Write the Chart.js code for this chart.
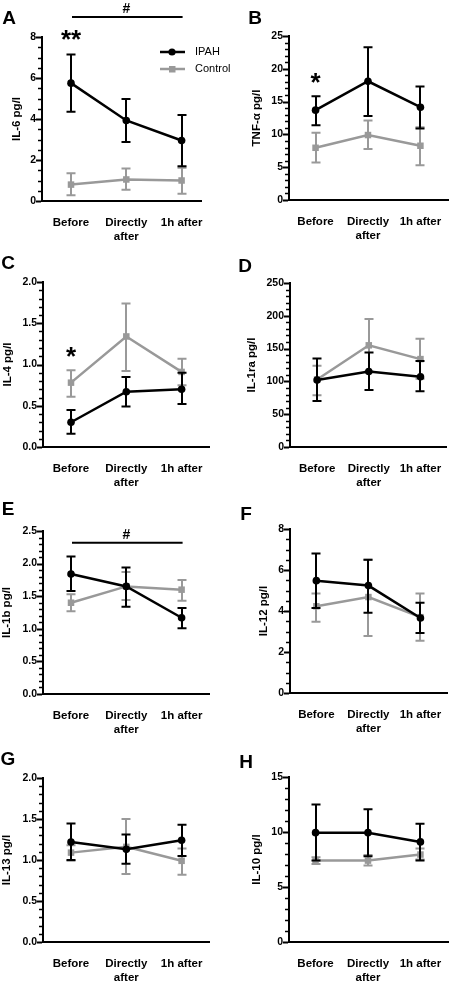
<!DOCTYPE html>
<html>
<head>
<meta charset="utf-8">
<script src="https://cdn.jsdelivr.net/npm/chart.js@4.4.1/dist/chart.umd.min.js"></script>
<style>
  html, body { margin: 0; padding: 0; background: #fff; }
  body { width: 457px; height: 982px; position: relative; overflow: hidden; }
  canvas { position: absolute; }
</style>
</head>
<body>
<canvas id="p0" width="240" height="245" style="left:0;top:0"></canvas>
<canvas id="p1" width="229" height="245" style="left:228px;top:0"></canvas>
<canvas id="p2" width="240" height="245" style="left:0;top:245px"></canvas>
<canvas id="p3" width="229" height="245" style="left:228px;top:245px"></canvas>
<canvas id="p4" width="240" height="245" style="left:0;top:490px"></canvas>
<canvas id="p5" width="229" height="245" style="left:228px;top:490px"></canvas>
<canvas id="p6" width="240" height="247" style="left:0;top:735px"></canvas>
<canvas id="p7" width="229" height="247" style="left:228px;top:735px"></canvas>
<script>
// data
const timepoints = ['Before', ['Directly', 'after'], '1h after'];
const seriesNames = ['IPAH', 'Control'];
const panelLetters = ['A', 'B', 'C', 'D', 'E', 'F', 'G', 'H'];
const yTitles = ['IL-6 pg/l', 'TNF-\u03b1 pg/l', 'IL-4 pg/l', 'IL-1ra pg/l', 'IL-1b pg/l', 'IL-12 pg/l', 'IL-13 pg/l', 'IL-10 pg/l'];
const yMax = [8, 25, 2, 250, 2.5, 8, 2, 15];
const yMajor = [2, 5, 0.5, 50, 0.5, 2, 0.5, 5];
const yMinor = [0.5, 1, 0.1, 10, 0.1, 0.5, 0.1, 1];
const yDecimals = [0, 0, 1, 0, 1, 0, 1, 0];

const ipahMean = [
  [5.75, 3.93, 2.95],
  [13.7, 18.1, 14.15],
  [0.30, 0.67, 0.70],
  [102, 115, 107],
  [1.84, 1.65, 1.17],
  [5.48, 5.24, 3.66],
  [1.22, 1.13, 1.24],
  [9.94, 9.94, 9.1]
];
const ipahLow = [
  [4.35, 2.88, 1.7],
  [11.4, 12.8, 10.9],
  [0.16, 0.49, 0.52],
  [70, 87, 85],
  [1.58, 1.34, 1.01],
  [4.15, 3.92, 2.93],
  [1.0, 0.955, 1.05],
  [7.4, 7.8, 7.4]
];
const ipahHigh = [
  [7.15, 4.98, 4.2],
  [15.8, 23.3, 17.3],
  [0.45, 0.85, 0.9],
  [135, 144, 131],
  [2.11, 1.94, 1.32],
  [6.8, 6.5, 4.4],
  [1.445, 1.31, 1.43],
  [12.5, 12.06, 10.75]
];
const ctrlMean = [
  [0.8, 1.05, 1.0],
  [7.96, 9.9, 8.27],
  [0.78, 1.34, 0.91],
  [103, 155, 134],
  [1.40, 1.65, 1.60],
  [4.23, 4.68, 3.7],
  [1.09, 1.16, 0.99],
  [7.4, 7.4, 7.95]
];
const ctrlLow = [
  [0.28, 0.55, 0.35],
  [5.7, 7.76, 5.3],
  [0.61, 0.92, 0.75],
  [79, 115, 104],
  [1.27, 1.44, 1.43],
  [3.48, 2.78, 2.55],
  [0.99, 0.83, 0.82],
  [7.1, 6.95, 7.5]
];
const ctrlHigh = [
  [1.35, 1.58, 1.62],
  [10.25, 12.1, 11.1],
  [0.93, 1.74, 1.07],
  [124, 195, 165],
  [1.53, 1.87, 1.75],
  [4.85, 6.5, 4.85],
  [1.18, 1.5, 1.14],
  [7.7, 7.9, 8.5]
];

// significance marks
const sigBars = [
  { panel: 0, from: 0, to: 2, y: 8.98, label: '#' },
  { panel: 4, from: 0, to: 2, y: 2.32, label: '#' }
];
const sigStars = [
  { panel: 0, x: 0, y: 8.2, label: '**' },
  { panel: 1, x: 0, y: 18.9, label: '*' },
  { panel: 2, x: 0, y: 1.18, label: '*' }
];

// panel geometry (canvas-local pixels)
const frames = [
  { w: 240, h: 245, axisX: 42, titleX: 17, top: 37, bottom: 201, right: 201, cat0: 71, lx: 9, ly: 18 },
  { w: 229, h: 245, axisX: 61, titleX: 29, top: 36, bottom: 200, right: 229, cat0: 89, lx: 27, ly: 18 },
  { w: 240, h: 245, axisX: 43, titleX: 8, top: 37, bottom: 202, right: 209, cat0: 71, lx: 8, ly: 18 },
  { w: 229, h: 245, axisX: 62, titleX: 24, top: 38, bottom: 202, right: 229, cat0: 91, lx: 17, ly: 21 },
  { w: 240, h: 245, axisX: 43, titleX: 7, top: 41, bottom: 204, right: 209, cat0: 71, lx: 8, ly: 19 },
  { w: 229, h: 245, axisX: 62, titleX: 36, top: 39, bottom: 203, right: 229, cat0: 90, lx: 18, ly: 24 },
  { w: 240, h: 247, axisX: 43, titleX: 7, top: 43, bottom: 207, right: 209, cat0: 71, lx: 8, ly: 24 },
  { w: 229, h: 247, axisX: 61, titleX: 29, top: 42, bottom: 207, right: 229, cat0: 89, lx: 18, ly: 27 }
];
const catGap = 55.3;
const FONT = '"Liberation Sans", Arial, sans-serif';
const BLACK = '#000000';
const GREY = '#999999';
const TITLE_SIZE = 11.5;

function toPoints(arr) {
  return arr.map((v, i) => ({ x: i, y: v }));
}

const decor = {
  id: 'decor',
  beforeDatasetDraw(chart, args) {
    const ds = chart.data.datasets[args.index];
    const x = chart.scales.x, y = chart.scales.y;
    const ctx = chart.ctx;
    ctx.save();
    ctx.strokeStyle = ds.borderColor;
    ctx.lineWidth = 2;
    ds.errLow.forEach((lo, i) => {
      const px = Math.round(x.getPixelForValue(i));
      const y1 = y.getPixelForValue(lo), y2 = y.getPixelForValue(ds.errHigh[i]);
      ctx.beginPath();
      ctx.moveTo(px, y1); ctx.lineTo(px, y2);
      ctx.moveTo(px - 4.5, y1); ctx.lineTo(px + 4.5, y1);
      ctx.moveTo(px - 4.5, y2); ctx.lineTo(px + 4.5, y2);
      ctx.stroke();
    });
    ctx.restore();
  },
  afterDraw(chart) {
    const p = chart.options.plugins.decor;
    const i = p.panel, f = frames[i];
    const ctx = chart.ctx;
    const x = chart.scales.x, y = chart.scales.y;
    const left = chart.chartArea.left;
    ctx.save();
    // y ticks, major and minor
    ctx.strokeStyle = BLACK;
    const n = Math.round(yMax[i] / yMinor[i]);
    for (let k = 0; k <= n; k++) {
      const v = k * yMinor[i];
      const r = v / yMajor[i];
      const major = Math.abs(r - Math.round(r)) < 1e-6;
      const py = Math.round(y.getPixelForValue(v)) + 0.5;
      ctx.lineWidth = major ? 2 : 1.5;
      ctx.beginPath();
      ctx.moveTo(left - 1, py);
      ctx.lineTo(left - (major ? 6 : 4), py);
      ctx.stroke();
    }
    // panel letter
    ctx.fillStyle = BLACK;
    ctx.font = 'bold 19px ' + FONT;
    ctx.textAlign = 'center';
    ctx.textBaseline = 'middle';
    ctx.fillText(panelLetters[i], f.lx, f.ly + 1);
    // significance bars
    sigBars.filter(s => s.panel === i).forEach(s => {
      const py = y.getPixelForValue(s.y);
      const x1 = x.getPixelForValue(s.from), x2 = x.getPixelForValue(s.to);
      ctx.lineWidth = 2;
      ctx.beginPath();
      ctx.moveTo(x1 + 1, py); ctx.lineTo(x2 + 1, py);
      ctx.stroke();
      ctx.font = 'bold 14px ' + FONT;
      ctx.textBaseline = 'alphabetic';
      ctx.fillText(s.label, (x1 + x2) / 2, py - 4);
    });
    sigStars.filter(s => s.panel === i).forEach(s => {
      const px = x.getPixelForValue(s.x), py = y.getPixelForValue(s.y);
      ctx.font = 'bold 26px ' + FONT;
      ctx.textBaseline = 'alphabetic';
      ctx.fillText(s.label, px, py + 15);
    });
    // legend (panel A only)
    if (p.legend) {
      chart.data.datasets.forEach((ds, k) => {
        const ly = 52 + k * 17;
        ctx.strokeStyle = ds.borderColor;
        ctx.fillStyle = ds.borderColor;
        ctx.lineWidth = 2.5;
        ctx.beginPath();
        ctx.moveTo(160, ly); ctx.lineTo(185, ly);
        ctx.stroke();
        if (ds.pointStyle === 'rect') {
          ctx.fillRect(169, ly - 3, 6.5, 6.5);
        } else {
          ctx.beginPath(); ctx.arc(172, ly, 3.6, 0, Math.PI * 2); ctx.fill();
        }
        ctx.fillStyle = BLACK;
        ctx.font = '11px ' + FONT;
        ctx.textAlign = 'left';
        ctx.textBaseline = 'middle';
        ctx.fillText(ds.label, 195, ly);
      });
    }
    ctx.restore();
  }
};

frames.forEach((f, i) => {
  const padLeft = f.titleX - TITLE_SIZE * 0.6;
  const xMin = (f.axisX - f.cat0) / catGap;
  const xMax = xMin + (f.right - f.axisX) / catGap;
  new Chart(document.getElementById('p' + i), {
    type: 'line',
    data: {
      datasets: [
        {
          label: seriesNames[0],
          data: toPoints(ipahMean[i]),
          errLow: ipahLow[i], errHigh: ipahHigh[i],
          borderColor: BLACK, backgroundColor: BLACK,
          borderWidth: 2.5, pointStyle: 'circle', pointRadius: 3.8,
          pointBorderWidth: 0, tension: 0, clip: false
        },
        {
          label: seriesNames[1],
          data: toPoints(ctrlMean[i]),
          errLow: ctrlLow[i], errHigh: ctrlHigh[i],
          borderColor: GREY, backgroundColor: GREY,
          borderWidth: 2.5, pointStyle: 'rect', pointRadius: 4.6,
          pointBorderWidth: 0, tension: 0, clip: false
        }
      ]
    },
    options: {
      responsive: false,
      animation: false,
      layout: { padding: { left: padLeft, top: f.top, right: f.w - f.right, bottom: 0 } },
      scales: {
        x: {
          type: 'linear', min: xMin, max: xMax,
          afterBuildTicks: s => { s.ticks = [0, 1, 2].map(v => ({ value: v })); },
          afterFit: s => { s.height = f.h - f.bottom; },
          grid: { display: false, drawTicks: false },
          border: { display: true, color: BLACK, width: 2 },
          ticks: {
            autoSkip: false, maxRotation: 0, padding: 15, color: BLACK,
            font: { family: FONT, size: 11.5, weight: 'bold', lineHeight: 1.2 },
            callback: v => timepoints[v]
          }
        },
        y: {
          min: 0, max: yMax[i],
          afterFit: s => { s.width = f.axisX - padLeft; },
          grid: { display: false, drawTicks: true, tickLength: 5 },
          border: { display: true, color: BLACK, width: 2 },
          title: {
            display: true, text: yTitles[i], color: BLACK, padding: 0,
            font: { family: FONT, size: TITLE_SIZE, weight: 'bold', lineHeight: 1.2 }
          },
          ticks: {
            stepSize: yMajor[i], padding: 1, color: BLACK,
            font: { family: FONT, size: 10.5, weight: 'bold' },
            callback: v => v.toFixed(yDecimals[i])
          }
        }
      },
      plugins: {
        legend: { display: false },
        tooltip: { enabled: false },
        decor: { panel: i, legend: i === 0 }
      }
    },
    plugins: [decor]
  });
});
</script>
</body>
</html>
